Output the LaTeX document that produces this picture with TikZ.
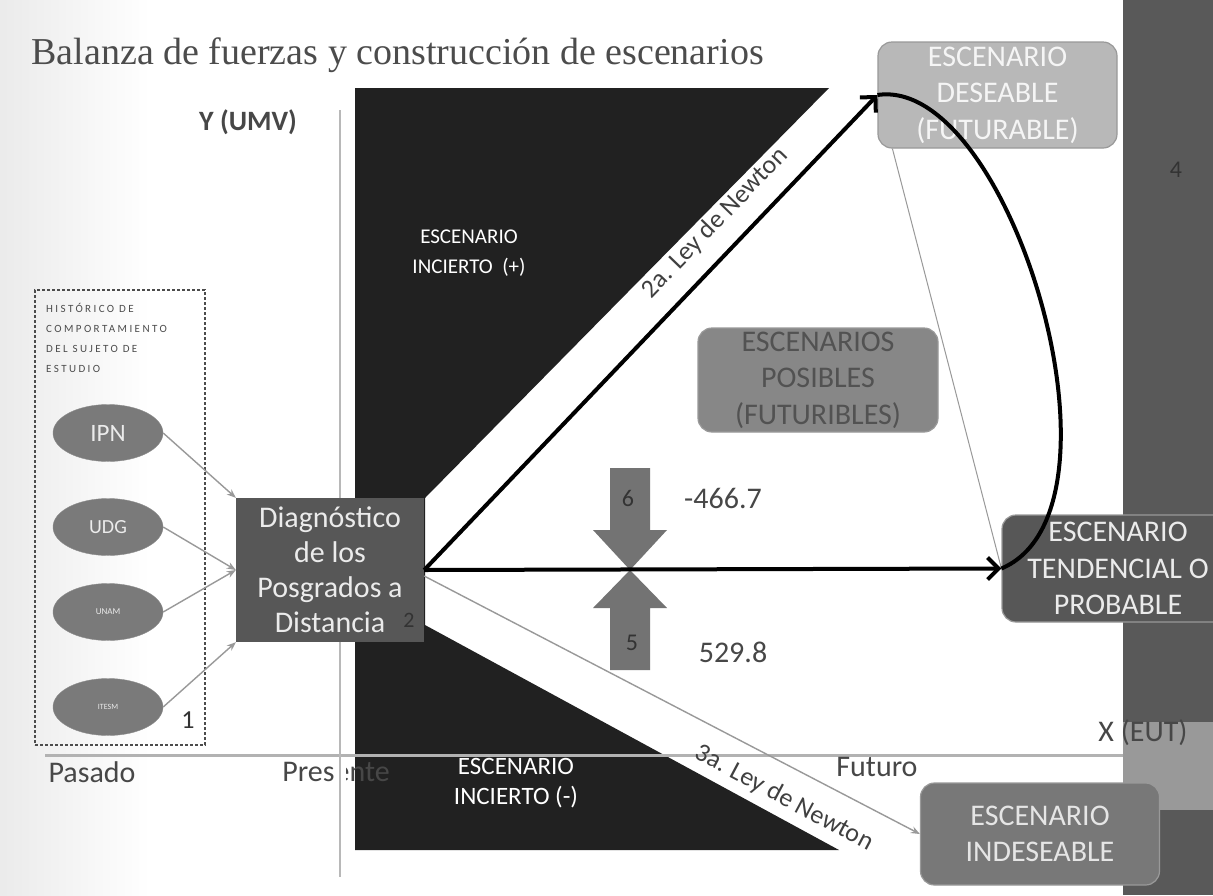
\documentclass[tikz,border=0pt]{standalone}
\usepackage{fontspec}
\setmainfont{Carlito}
\newfontfamily\titlefont{Liberation Serif}
\usetikzlibrary{arrows.meta,shapes.geometric}

\begin{document}
\begin{tikzpicture}[x=1pt,y=-1pt,
    scen/.style={draw=black!40, rounded corners=14pt, line width=1.2pt, align=center, inner sep=0pt, font=\fontsize{30}{36.5}\selectfont},
    uni/.style={ellipse, fill=black!52, draw=black!45, minimum width=110pt, minimum height=57pt, inner sep=0pt, text=black!8},
    lbl/.style={text=black!72, inner sep=0pt, font=\fontsize{30}{36}\selectfont},
    thinarr/.style={black!40, line width=1.4pt, -{Stealth[length=9pt,width=7pt]}},
    thickarr/.style={black, line width=4pt, -{Straight Barb[length=11pt,width=22pt]}},
    force/.style={fill=black!55}
]
    % Setup
    \useasboundingbox (0,0) rectangle (1213,895);
    \fill[white] (0,0) rectangle (1213,895);
    \shade[left color=black!8, right color=white] (0,0) rectangle (150,895);
    \fill[black!65] (1123,0) rectangle (1213,895);
    \fill[black!40] (1123,722) rectangle (1213,810);

    % Uncertain zones (black)
    \fill[black!87] (355,88) -- (829,88) -- (425,498) -- (425,625) -- (839,850) -- (355,850) -- cycle;

    % Axes
    \draw[black!30, line width=3pt] (45,755) -- (1123,755);
    \node[lbl] (pasado) at (92,772) {Pasado};
    \node[lbl] (presente) at (336,772) {Presente};
    \node[lbl] (futuro) at (877,767) {Futuro};
    \node[lbl] (xlab) at (1143,733) {X (EUT)};
    \fill[white] (334,758) rectangle (346,790);
    \draw[black!28, line width=2.5pt] (340,110) -- (340,877);
    \node[lbl, font=\bfseries\fontsize{28}{28}\selectfont] (ylab) at (248,122) {Y (UMV)};

    \node[anchor=west, text=black!70, font=\titlefont\fontsize{38}{38}\selectfont] (title) at (28,55) {Balanza de fuerzas y construcción de escenarios};

    % Zone labels
    \node[text=white, align=center, font=\fontsize{21}{30}\selectfont] (inciertoA) at (469,253) {ESCENARIO\\INCIERTO\ \ (+)};
    \node[text=white, align=center, font=\fontsize{25}{30}\selectfont] (inciertoB) at (516,783) {ESCENARIO\\INCIERTO (-)};

    % Historical record
    \node[draw=black!70, densely dashed, line width=1.2pt, minimum width=170pt, minimum height=455pt] (hist) at (120,517.5) {};
    \node[anchor=north west, align=left, inner sep=0pt, text=black!70, font=\addfontfeature{LetterSpace=22}\fontsize{11}{20}\selectfont] (histlab) at (46,303) {HISTÓRICO DE\\COMPORTAMIENTO\\DEL SUJETO DE\\ESTUDIO};
    \node[uni, font=\fontsize{25}{25}\selectfont] (ipn) at (108,433) {IPN};
    \node[uni, font=\fontsize{20}{20}\selectfont] (udg) at (108,527) {UDG};
    \node[uni, font=\fontsize{9}{9}\selectfont] (unam) at (108,612) {UNAM};
    \node[uni, font=\fontsize{8}{8}\selectfont] (itesm) at (108,707) {ITESM};
    \node[text=black!80, font=\fontsize{26}{26}\selectfont] (num1) at (188,720) {1};

    % Diagnosis
    \node[fill=black!66, minimum width=188pt, minimum height=144pt, inner sep=0pt, text=black!8, align=center, font=\fontsize{30}{35}\selectfont] (diag) at (330,570) {Diagnóstico\\de los\\Posgrados a\\Distancia};
    \node[text=black!80, font=\fontsize{22}{22}\selectfont] (num2) at (409,620) {2};

    % Scenarios
    \node[scen, fill=black!28, text=black!4, minimum width=239pt, minimum height=106pt] (deseable) at (997.5,95) {ESCENARIO\\DESEABLE\\(FUTURABLE)};
    \node[scen, fill=black!47, text=black!68, minimum width=240pt, minimum height=104pt] (posibles) at (818,380) {ESCENARIOS\\POSIBLES\\(FUTURIBLES)};
    \node[scen, fill=black!66, text=black!8, minimum width=232pt, minimum height=107pt] (tendencial) at (1118,568.5) {ESCENARIO\\TENDENCIAL O\\PROBABLE};
    \node[scen, fill=black!53, text=black!10, minimum width=239pt, minimum height=102pt] (indeseable) at (1040,834) {ESCENARIO\\INDESEABLE};
    \node[text=black!80, font=\fontsize{24}{24}\selectfont] (num4) at (1176,170) {4};

    % Forces
    \fill[force] (610,468) -- (650,468) -- (650,530) -- (667,530) -- (630,570) -- (593,530) -- (610,530) -- cycle;
    \fill[force] (610,670) -- (650,670) -- (650,608) -- (667,608) -- (630,570) -- (593,608) -- (610,608) -- cycle;
    \node[text=black!80, font=\fontsize{24}{24}\selectfont] (num6) at (628,498) {6};
    \node[text=black!80, font=\fontsize{24}{24}\selectfont] (num5) at (632,643) {5};
    \node[lbl] (f6) at (723,498) {-466.7};
    \node[lbl] (f5) at (733,652) {529.8};

    % Connectors
    \foreach \u/\t in {ipn/north west, udg/west, unam/west, itesm/south west} {
        \draw[thinarr] (\u.east) -- (diag.\t);
    }
    \draw[thinarr] ([yshift=-6pt]diag.east) -- (indeseable.west);
    \draw[black!40, line width=1pt] ([xshift=15pt]deseable.south west) -- (tendencial.west);
    \draw[thickarr] (diag.east) -- (deseable.west);
    \draw[thickarr] (diag.east) -- (tendencial.west);
    \draw[black, line width=4pt] (deseable.west) .. controls (1010,75) and (1140,510) .. (tendencial.west);

    % Newton laws
    \node[rotate=46, text=black!75, font=\fontsize{26}{26}\selectfont] (ley2) at (715,223) {2a. Ley de Newton};
    \node[rotate=-28, text=black!75, font=\fontsize{26}{26}\selectfont] (ley3) at (784,798) {3a. Ley de Newton};
\end{tikzpicture}
\end{document}
